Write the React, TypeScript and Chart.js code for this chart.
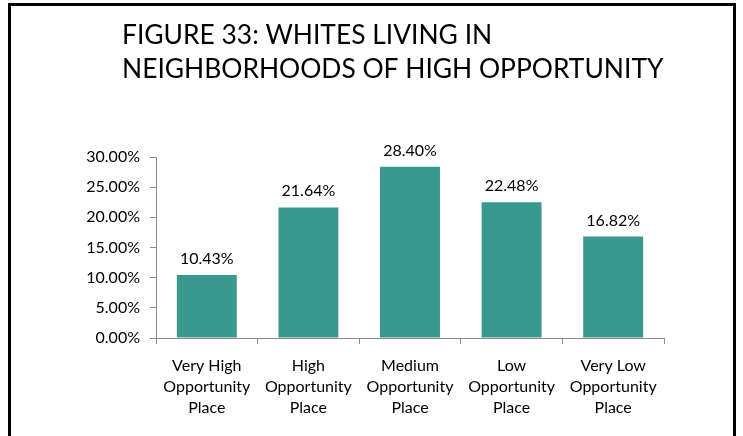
import React, { useEffect, useRef } from "react";
import { Chart, registerables } from "chart.js";

Chart.register(...registerables);

const titleLines = ["FIGURE 33: WHITES LIVING IN", "NEIGHBORHOODS OF HIGH OPPORTUNITY"];
const categories = [
  ["Very High", "Opportunity", "Place"],
  ["High", "Opportunity", "Place"],
  ["Medium", "Opportunity", "Place"],
  ["Low", "Opportunity", "Place"],
  ["Very Low", "Opportunity", "Place"],
];
const values = [10.43, 21.64, 28.4, 22.48, 16.82];
const yMin = 0;
const yMax = 30;
const yStep = 5;

const BAR_COLOR = "#3a998e";
const AXIS_COLOR = "#8c8c8c";
const LABEL_FONT = "Lato";

const framePlugin = {
  id: "frame",
  beforeDraw(chart: any) {
    const ctx = chart.ctx;
    ctx.save();
    ctx.fillStyle = "#ffffff";
    ctx.fillRect(0, 0, chart.width, chart.height);
    ctx.strokeStyle = "#000000";
    ctx.lineWidth = 3;
    ctx.strokeRect(9.5, 4.5, 725, 460);
    ctx.fillStyle = "#000000";
    ctx.font = "26.4px Lato";
    ctx.textBaseline = "alphabetic";
    ctx.textAlign = "left";
    ctx.fillText(titleLines[0], 122, 44);
    ctx.fillText(titleLines[1], 122, 78);
    ctx.restore();
  },
};

const valueLabelPlugin = {
  id: "valueLabels",
  afterDatasetsDraw(chart: any) {
    const ctx = chart.ctx;
    const meta = chart.getDatasetMeta(0);
    ctx.save();
    ctx.fillStyle = "#000000";
    ctx.font = `16px ${LABEL_FONT}`;
    ctx.textAlign = "center";
    ctx.textBaseline = "alphabetic";
    meta.data.forEach((bar: any, i: number) => {
      ctx.fillText(values[i].toFixed(2) + "%", bar.x, bar.y - 11);
    });
    ctx.restore();
  },
};

export default function App() {
  const ref = useRef<HTMLCanvasElement>(null);
  useEffect(() => {
    const chart = new Chart(ref.current!, {
      type: "bar",
      data: {
        labels: categories,
        datasets: [
          {
            data: values,
            backgroundColor: BAR_COLOR,
            borderWidth: 0,
            barPercentage: 0.59,
            categoryPercentage: 1,
          },
        ],
      },
      options: {
        animation: false,
        responsive: false,
        layout: { padding: { top: 157, right: 79, left: 0, bottom: 0 } },
        plugins: { legend: { display: false }, tooltip: { enabled: false } },
        scales: {
          x: {
            offset: true,
            grid: {
              display: true,
              drawOnChartArea: false,
              drawTicks: true,
              tickLength: 6,
              color: AXIS_COLOR,
              offset: true,
            },
            border: { color: AXIS_COLOR, width: 1 },
            ticks: {
              color: "#000000",
              font: { family: LABEL_FONT, size: 16, lineHeight: 1.32 },
              padding: 11,
              maxRotation: 0,
              autoSkip: false,
            },
            afterFit(scale: any) {
              scale.height = 98;
            },
          },
          y: {
            min: yMin,
            max: yMax,
            grid: {
              display: true,
              drawOnChartArea: false,
              drawTicks: true,
              tickLength: 6,
              color: AXIS_COLOR,
            },
            border: { color: AXIS_COLOR, width: 1 },
            ticks: {
              stepSize: yStep,
              color: "#000000",
              font: { family: LABEL_FONT, size: 16 },
              padding: 10,
              callback: (v: any) => Number(v).toFixed(2) + "%",
            },
            afterFit(scale: any) {
              scale.width = 156;
            },
          },
        },
      },
      plugins: [framePlugin, valueLabelPlugin],
    });
    return () => chart.destroy();
  }, []);
  return (
    <div style={{ position: "fixed", left: 0, top: 0, width: 743, height: 436 }}>
      <canvas ref={ref} width={743} height={436} style={{ display: "block" }} />
    </div>
  );
}
